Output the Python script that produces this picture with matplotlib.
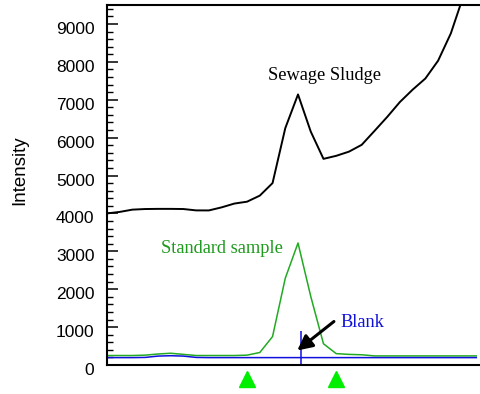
import numpy as np
import matplotlib
matplotlib.use("Agg")
import matplotlib.pyplot as plt
import matplotlib.transforms as mtransforms

# scan points (channel index) and measured intensities
channel = np.arange(30)
sludge = [4000, 4040, 4100, 4116, 4120, 4120, 4116, 4080, 4079, 4160,
          4260, 4310, 4470, 4800, 6250, 7140, 6160, 5440, 5520, 5630,
          5810, 6175, 6545, 6940, 7266, 7560, 8030, 8750, 9750, 10600]
standard = [250, 250, 250, 260, 290, 310, 280, 250, 250, 250,
            250, 260, 330, 750, 2290, 3220, 1810, 560, 300, 280,
            270, 240, 240, 240, 240, 240, 240, 240, 240, 240]
blank = [195, 195, 195, 200, 235, 245, 235, 200, 195, 195,
         195, 195, 195, 195, 195, 195, 195, 195, 195, 195,
         195, 195, 195, 195, 195, 195, 195, 195, 195, 195]
blank_mark = 15.2          # position of the blank marker line
blank_mark_top = 900
window = [11, 18]          # integration window markers

yticks = [0, 1000, 2000, 3000, 4000, 5000, 6000, 7000, 8000, 9000]

fig = plt.figure(figsize=(4.8, 3.94), dpi=100)
ax = fig.add_axes([0.2229, 0.0736, 0.78, 0.9137])

ax.plot(channel, sludge, color="black", lw=1.4)
ax.plot(channel, standard, color="#22aa22", lw=1.1)
ax.plot(channel, blank, color="#1010dd", lw=1.1)
ax.vlines(blank_mark, 20, blank_mark_top, color="#1010dd", lw=1.1)

serif = "Liberation Serif"
ax.text(12.68, 7525, "Sewage Sludge", family=serif, fontsize=13.2, color="black")
ax.text(4.25, 2960, "Standard sample", family=serif, fontsize=13.2, color="#1e9a1e")
ax.text(18.35, 1000, "Blank", family=serif, fontsize=13.2, color="#1010dd")

ax.annotate("", xy=(14.94, 383), xytext=(17.82, 1148),
            arrowprops=dict(arrowstyle="-|>,head_length=0.9,head_width=0.45",
                            color="black", lw=2.2, shrinkA=0, shrinkB=0))

# window markers below the x axis
trans = mtransforms.blended_transform_factory(ax.transData, ax.transAxes)
ax.plot(window, [-0.039] * len(window), linestyle="none", marker="^",
        color="#00ee00", markersize=11, transform=trans, clip_on=False)

ax.set_xlim(0, 29.4)
ax.set_ylim(0, 9500)
ax.set_yticks(yticks)
ax.set_yticks(np.arange(0, 9500, 200), minor=True)
ax.set_xticks([])
ax.tick_params(axis="y", which="major", direction="in", length=8, width=1.1,
               pad=9, labelsize=12.5)
ax.tick_params(axis="y", which="minor", direction="in", length=4.5, width=1.0)
for lbl in ax.get_yticklabels():
    lbl.set_family("Liberation Sans")
    lbl.set_transform(lbl.get_transform() +
                      mtransforms.ScaledTranslation(0, -4 / 100, fig.dpi_scale_trans))

ax.spines["right"].set_visible(False)
for s in ["left", "top", "bottom"]:
    ax.spines[s].set_linewidth(1.5)

ax.set_ylabel("Intensity", family="Liberation Sans", fontsize=13.5)
ax.yaxis.set_label_coords(-0.21, 0.542)

fig.savefig("out.png", dpi=100)
